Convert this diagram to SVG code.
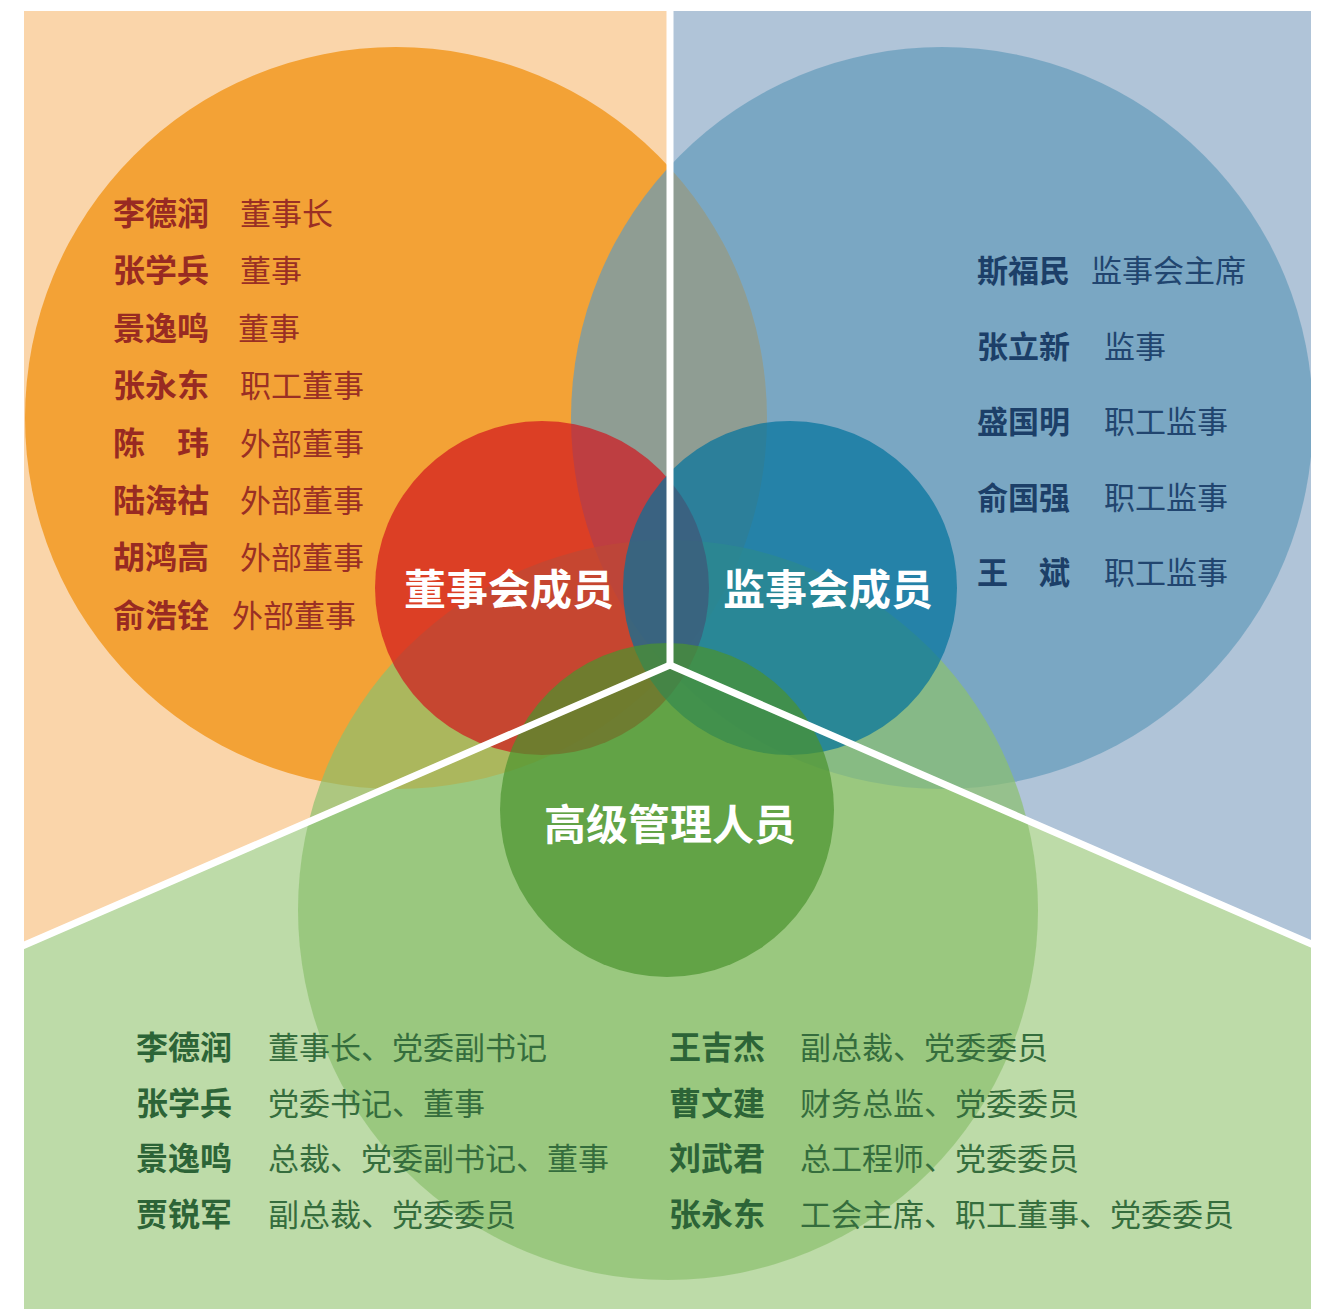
<svg xmlns="http://www.w3.org/2000/svg" width="1332" height="1309" viewBox="0 0 1332 1309">
<defs>
<clipPath id="panelClip"><rect x="24" y="11" width="1287" height="1298"/></clipPath>
<style>
text{font-family:"Noto Sans CJK SC","Noto Sans",sans-serif;}
.nm{font-weight:700;font-size:32px;}
.tt{font-weight:400;font-size:31px;}
.nmR{font-weight:700;font-size:31px;fill:#1C3F68;}
.ttR{font-weight:400;font-size:31px;fill:#21456F;}
.red{fill:#982A22;}
.redt{fill:#9A2F24;}
.grn{fill:#2C6437;}
.grnt{fill:#356D3D;}
.lbl{font-weight:700;font-size:42px;fill:#FFFFFF;text-anchor:middle;}
.c{opacity:0.7;}
</style>
</defs>
<rect width="1332" height="1309" fill="#FFFFFF"/>
<g id="panels">
<polygon points="24,11 670,11 670,665 24,945" fill="#FAD5AA"/>
<polygon points="670,11 1311,11 1311,944 670,665" fill="#B0C4D8"/>
<polygon points="24,945 670,665 1311,944 1311,1309 24,1309" fill="#BDDBA8"/>
</g>
<g id="circles" clip-path="url(#panelClip)">
<g id="board-big"><circle cx="396" cy="418" r="371" fill="#F3A236"/></g>
<g id="supervisory-big"><circle class="c" cx="942" cy="418" r="371" fill="#649BBB"/></g>
<g id="management-big"><circle class="c" cx="668" cy="910" r="370" fill="#8CC16D"/></g>
<g id="board-core"><circle class="c" cx="542" cy="588" r="167" fill="#D2161E"/></g>
<g id="supervisory-core"><circle class="c" cx="790" cy="588" r="167" fill="#02729C"/></g>
<g id="management-core"><circle class="c" cx="667" cy="810" r="167" fill="#4A932E"/></g>
</g>
<g id="connectors" fill="none" stroke="#FFFFFF" stroke-width="7">
<line x1="670" y1="0" x2="670" y2="665"/>
<polyline points="20,947 670,665 1316,946" stroke-linejoin="miter"/>
</g>
<g id="board-members">
<text class="nm red" x="113" y="225">李德润</text><text class="tt redt" x="240" y="225">董事长</text>
<text class="nm red" x="113" y="282">张学兵</text><text class="tt redt" x="240" y="282">董事</text>
<text class="nm red" x="113" y="340">景逸鸣</text><text class="tt redt" x="238" y="340">董事</text>
<text class="nm red" x="113" y="397">张永东</text><text class="tt redt" x="240" y="397">职工董事</text>
<text class="nm red" x="113" y="455">陈　玮</text><text class="tt redt" x="240" y="455">外部董事</text>
<text class="nm red" x="113" y="512">陆海祜</text><text class="tt redt" x="240" y="512">外部董事</text>
<text class="nm red" x="113" y="569">胡鸿高</text><text class="tt redt" x="240" y="569">外部董事</text>
<text class="nm red" x="113" y="627">俞浩铨</text><text class="tt redt" x="232" y="627">外部董事</text>
</g>
<g id="supervisory-members">
<text class="nmR" x="977" y="282">斯福民</text><text class="ttR" x="1091" y="282">监事会主席</text>
<text class="nmR" x="977" y="358">张立新</text><text class="ttR" x="1104" y="358">监事</text>
<text class="nmR" x="977" y="433">盛国明</text><text class="ttR" x="1104" y="433">职工监事</text>
<text class="nmR" x="977" y="509">俞国强</text><text class="ttR" x="1104" y="509">职工监事</text>
<text class="nmR" x="977" y="584">王　斌</text><text class="ttR" x="1104" y="584">职工监事</text>
</g>
<g id="labels">
<text class="lbl" x="509" y="605">董事会成员</text>
<text class="lbl" x="828" y="605">监事会成员</text>
<text class="lbl" x="670" y="840">高级管理人员</text>
</g>
<g id="management-members">
<text class="nm grn" x="136" y="1059">李德润</text><text class="tt grnt" x="268" y="1059">董事长、党委副书记</text>
<text class="nm grn" x="136" y="1115">张学兵</text><text class="tt grnt" x="268" y="1115">党委书记、董事</text>
<text class="nm grn" x="136" y="1170">景逸鸣</text><text class="tt grnt" x="268" y="1170">总裁、党委副书记、董事</text>
<text class="nm grn" x="136" y="1226">贾锐军</text><text class="tt grnt" x="268" y="1226">副总裁、党委委员</text>
<text class="nm grn" x="669" y="1059">王吉杰</text><text class="tt grnt" x="800" y="1059">副总裁、党委委员</text>
<text class="nm grn" x="669" y="1115">曹文建</text><text class="tt grnt" x="800" y="1115">财务总监、党委委员</text>
<text class="nm grn" x="669" y="1170">刘武君</text><text class="tt grnt" x="800" y="1170">总工程师、党委委员</text>
<text class="nm grn" x="669" y="1226">张永东</text><text class="tt grnt" x="800" y="1226">工会主席、职工董事、党委委员</text>
</g>
</svg>
